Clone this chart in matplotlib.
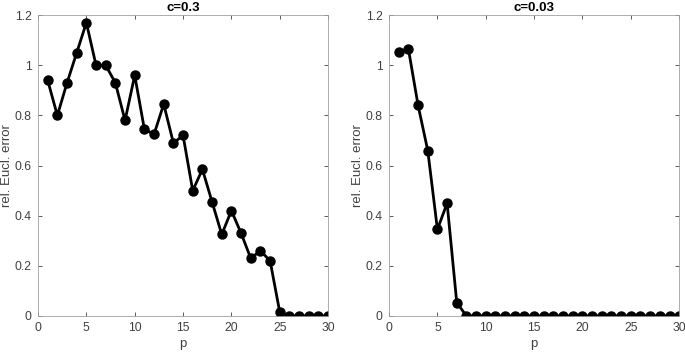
import matplotlib
matplotlib.use("Agg")
import matplotlib.pyplot as plt
import numpy as np

p = np.arange(1, 31)
err_c03 = [0.94, 0.80, 0.93, 1.05, 1.17, 1.00, 1.00, 0.93, 0.78, 0.96,
           0.745, 0.725, 0.845, 0.69, 0.72, 0.50, 0.585, 0.455, 0.325, 0.42,
           0.33, 0.23, 0.26, 0.22, 0.015, 0, 0, 0, 0, 0]
err_c003 = [1.053, 1.065, 0.84, 0.66, 0.345, 0.45, 0.053] + [0] * 23
titles = ["c=0.3", "c=0.03"]

plt.rcParams['font.family'] = ['Liberation Sans', 'DejaVu Sans']
gray = '#404040'

fig = plt.figure(figsize=(6.85, 3.53), dpi=100)
ax1 = fig.add_axes([0.0555, 0.105, 0.4235, 0.852])
ax2 = fig.add_axes([0.568, 0.105, 0.4235, 0.852])

for ax, y, t in zip([ax1, ax2], [err_c03, err_c003], titles):
    ax.plot(p, y, '-o', color='black', lw=2, ms=6.5)
    ax.set_xlim(0, 30)
    ax.set_ylim(0, 1.2)
    ax.set_xticks([0, 5, 10, 15, 20, 25, 30])
    ax.set_yticks([0, 0.2, 0.4, 0.6, 0.8, 1.0, 1.2])
    ax.set_yticklabels(['0', '0.2', '0.4', '0.6', '0.8', '1', '1.2'])
    ax.tick_params(direction='in', length=3, width=0.6, colors=gray,
                   labelsize=8.7, top=True, right=True, pad=4.5)
    for s in ax.spines.values():
        s.set_color('#a0a0a0')
        s.set_linewidth(0.6)
    ax.set_xlabel("p", fontsize=9.5, color=gray)
    ax.set_ylabel("rel. Eucl. error", fontsize=9.5, color=gray)
    ax.set_title(t, fontsize=9.5, fontweight='bold', pad=3)

ax1.yaxis.set_label_coords(-0.086, 0.5)
ax2.yaxis.set_label_coords(-0.086, 0.5)
ax1.xaxis.set_label_coords(0.5, -0.075)
ax2.xaxis.set_label_coords(0.5, -0.075)

plt.savefig("out.png", dpi=100)
